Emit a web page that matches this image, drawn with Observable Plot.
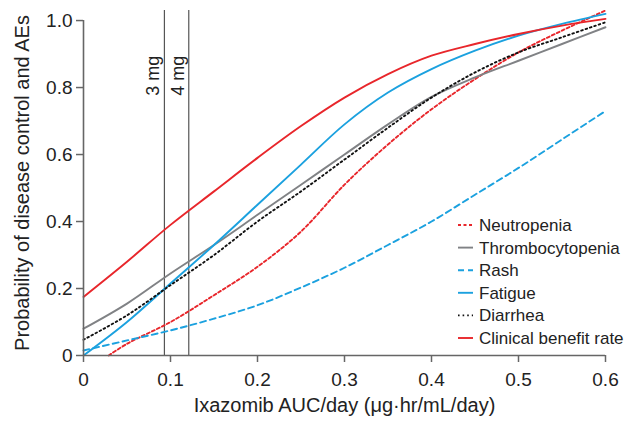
<!DOCTYPE html>
<html>
<head>
<meta charset="utf-8">
<script src="https://cdn.jsdelivr.net/npm/d3@7"></script>
<script src="https://cdn.jsdelivr.net/npm/@observablehq/plot@0.6"></script>
<style>
  html, body { margin: 0; padding: 0; background: #fff; }
  #chart svg { display: block; }
</style>
</head>
<body>
<div id="chart"></div>
<script>
// ---- data ----
const xGrid = [0, 0.05, 0.1, 0.15, 0.2, 0.25, 0.3, 0.35, 0.4, 0.45, 0.5, 0.55, 0.6];
const neutropeniaX = [0.029, 0.05, 0.1, 0.15, 0.2, 0.25, 0.3, 0.35, 0.4, 0.45, 0.5, 0.55, 0.6];
const neutropeniaY = [0, 0.035, 0.10, 0.18, 0.265, 0.37, 0.51, 0.63, 0.735, 0.825, 0.905, 0.97, 1.03];
const thrombocytopeniaY = [0.08, 0.155, 0.245, 0.33, 0.42, 0.51, 0.60, 0.69, 0.772, 0.83, 0.88, 0.93, 0.98];
const rashY = [0.015, 0.045, 0.075, 0.11, 0.15, 0.203, 0.262, 0.33, 0.40, 0.48, 0.56, 0.645, 0.73];
const fatigueY = [0, 0.10, 0.215, 0.33, 0.45, 0.57, 0.69, 0.785, 0.855, 0.91, 0.955, 0.99, 1.02];
const diarrheaY = [0.047, 0.12, 0.21, 0.30, 0.40, 0.49, 0.585, 0.68, 0.77, 0.845, 0.905, 0.95, 0.995];
const cbrY = [0.175, 0.28, 0.39, 0.49, 0.59, 0.685, 0.77, 0.84, 0.895, 0.93, 0.96, 0.985, 1.005];

const doseX = [0.093, 0.121];
const doseLabels = ["3 mg", "4 mg"];
const doseLabelY = 0.835;

const xTicks = [0, 0.1, 0.2, 0.3, 0.4, 0.5, 0.6];
const yTicks = [0, 0.2, 0.4, 0.6, 0.8, 1.0];

const seriesNames = ["Neutropenia", "Thrombocytopenia", "Rash", "Fatigue", "Diarrhea", "Clinical benefit rate"];

// ---- styles ----
const RED = "#e8262b", GRAY = "#808285", BLUE = "#1ba1df", BLACK = "#111";
const styles = {
  "Neutropenia": {stroke: RED, dash: "3,2.5"},
  "Thrombocytopenia": {stroke: GRAY, dash: null},
  "Rash": {stroke: BLUE, dash: "6,4"},
  "Fatigue": {stroke: BLUE, dash: null},
  "Diarrhea": {stroke: BLACK, dash: "1.6,3"},
  "Clinical benefit rate": {stroke: RED, dash: null}
};

function rows(name, xs, ys) { return xs.map((x, i) => ({series: name, x, y: ys[i]})); }
const data = {
  "Neutropenia": rows("Neutropenia", neutropeniaX, neutropeniaY),
  "Thrombocytopenia": rows("Thrombocytopenia", xGrid, thrombocytopeniaY),
  "Rash": rows("Rash", xGrid, rashY),
  "Fatigue": rows("Fatigue", xGrid, fatigueY),
  "Diarrhea": rows("Diarrhea", xGrid, diarrheaY),
  "Clinical benefit rate": rows("Clinical benefit rate", xGrid, cbrY)
};

const fmt = d => d === 0 ? "0" : d.toFixed(1);
const AXIS = "#666";
const FONT = "'Liberation Sans', Arial, Helvetica, sans-serif";

const lineMarks = seriesNames.map(n => Plot.line(data[n], {
  x: "x", y: "y", curve: "catmull-rom",
  stroke: styles[n].stroke, strokeWidth: 1.9,
  strokeDasharray: styles[n].dash || undefined
}));

const chart = Plot.plot({
  width: 644, height: 422,
  marginLeft: 83, marginRight: 39, marginTop: 10, marginBottom: 67,
  style: {fontFamily: FONT, fontSize: "19px", color: "#222", background: "#fff"},
  x: {domain: [0, 0.6]},
  y: {domain: [0, 1.03]},
  marks: [
    Plot.ruleX(doseX, {y1: 0, y2: 1.03, stroke: "#555", strokeWidth: 1.2}),
    Plot.text(doseLabels, {x: (d, i) => doseX[i], y: doseLabelY, text: d => d, rotate: -90, dx: -11, fontSize: 18, fill: "#222"}),
    ...lineMarks,
    Plot.ruleY([0], {x1: 0, x2: 0.6, stroke: AXIS, strokeWidth: 1.6}),
    Plot.ruleX([0], {y1: 0, y2: 1.0, stroke: AXIS, strokeWidth: 1.6}),
    Plot.axisX({ticks: xTicks, tickFormat: fmt, tickSize: 7, tickPadding: 10, stroke: AXIS, strokeWidth: 1.5, fill: "#222", label: null, fontSize: 19}),
    Plot.axisY({ticks: yTicks, tickFormat: fmt, tickSize: 7, tickPadding: 4, stroke: AXIS, strokeWidth: 1.5, fill: "#222", label: null, fontSize: 19}),
    Plot.text(["Ixazomib AUC/day (μg·hr/mL/day)"], {frameAnchor: "bottom", dy: 56, fontSize: 20, fill: "#222"}),
    Plot.text(["Probability of disease control and AEs"], {frameAnchor: "left", textAnchor: "middle", rotate: -90, dx: -61, fontSize: 20, fill: "#222"})
  ]
});

// legend inside plot area
const svg = d3.select(chart);
const lg = svg.append("g").attr("font-family", FONT).attr("font-size", 17).attr("text-anchor", "start");
const legX = 458, legY0 = 225, legStep = 22.6;
seriesNames.forEach((n, i) => {
  const y = legY0 + i * legStep;
  lg.append("line").attr("x1", legX).attr("x2", legX + 15).attr("y1", y).attr("y2", y)
    .attr("stroke", styles[n].stroke).attr("stroke-width", 1.9)
    .attr("stroke-dasharray", styles[n].dash || null);
  lg.append("text").attr("x", legX + 21).attr("y", y).attr("dy", "0.35em").attr("fill", "#222").text(n);
});

document.getElementById("chart").appendChild(chart);
</script>
</body>
</html>
